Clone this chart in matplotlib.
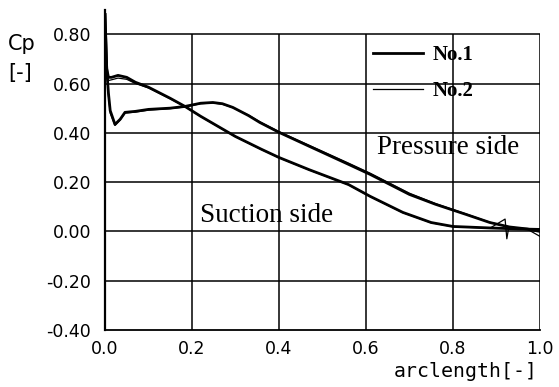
import numpy as np
import matplotlib.pyplot as plt

# Cp along arclength
x_suc1 = [0.0, 0.004, 0.008, 0.015, 0.03, 0.05, 0.07, 0.1, 0.15, 0.184, 0.22, 0.3, 0.36,
          0.4, 0.47, 0.56, 0.61, 0.685, 0.75, 0.8, 0.885, 0.95, 1.0]
cp_suc1 = [0.88, 0.66, 0.625, 0.625, 0.633, 0.625, 0.605, 0.585, 0.54, 0.507, 0.467, 0.385, 0.333,
           0.30, 0.25, 0.19, 0.142, 0.077, 0.036, 0.02, 0.014, 0.01, 0.008]

x_pre1 = [0.0, 0.004, 0.008, 0.012, 0.023, 0.035, 0.046, 0.07, 0.1, 0.15, 0.184, 0.22, 0.248,
          0.27, 0.294, 0.33, 0.356, 0.4, 0.47, 0.56, 0.61, 0.7, 0.76, 0.83, 0.885, 0.93, 0.97, 1.0]
cp_pre1 = [0.88, 0.66, 0.56, 0.49, 0.434, 0.455, 0.483, 0.487, 0.495, 0.50, 0.507, 0.52, 0.523,
           0.518, 0.503, 0.47, 0.442, 0.402, 0.345, 0.272, 0.231, 0.15, 0.11, 0.069, 0.036, 0.018, 0.01, 0.0]

x_suc2 = [0.0, 0.004, 0.008, 0.015, 0.03, 0.05, 0.07, 0.1, 0.15, 0.184, 0.22, 0.3, 0.36,
          0.4, 0.47, 0.56, 0.61, 0.685, 0.75, 0.8, 0.885, 0.92, 0.924, 0.928, 0.95, 1.0]
cp_suc2 = [0.88, 0.64, 0.612, 0.615, 0.622, 0.617, 0.6, 0.582, 0.538, 0.506, 0.466, 0.384, 0.332,
           0.299, 0.249, 0.189, 0.141, 0.076, 0.035, 0.019, 0.013, 0.05, -0.03, 0.012, 0.01, 0.008]

x_pre2 = [0.0, 0.004, 0.008, 0.012, 0.023, 0.035, 0.046, 0.07, 0.1, 0.15, 0.184, 0.22, 0.248,
          0.27, 0.294, 0.33, 0.356, 0.4, 0.47, 0.56, 0.61, 0.7, 0.76, 0.83, 0.885, 0.93, 0.97, 1.0]
cp_pre2 = [0.88, 0.65, 0.55, 0.48, 0.43, 0.452, 0.48, 0.484, 0.492, 0.498, 0.505, 0.518, 0.521,
           0.516, 0.502, 0.472, 0.445, 0.405, 0.349, 0.277, 0.236, 0.155, 0.113, 0.071, 0.037, 0.018, 0.01, -0.02]

xticks = [0.0, 0.2, 0.4, 0.6, 0.8, 1.0]
yticks = [-0.40, -0.20, 0.00, 0.20, 0.40, 0.60, 0.80]

fig = plt.figure(figsize=(5.59, 3.87), dpi=100)
ax = fig.add_axes([0.1878, 0.1473, 0.778, 0.828])

# grid box stops at 0.8, only the left axis goes higher
ax.hlines(yticks[1:], 0, 1.0, color='black', lw=1.1, zorder=1)
ax.vlines(xticks[1:], -0.4, 0.8, color='black', lw=1.1, zorder=1)

ax.plot(x_suc1, cp_suc1, color='black', lw=2.0, label='No.1', zorder=3)
ax.plot(x_pre1, cp_pre1, color='black', lw=2.0, zorder=3)
ax.plot(x_suc2, cp_suc2, color='black', lw=0.9, label='No.2', zorder=4)
ax.plot(x_pre2, cp_pre2, color='black', lw=0.9, zorder=4)

ax.set_xlim(0, 1.0)
ax.set_ylim(-0.4, 0.9)
for s in ['top', 'right']:
    ax.spines[s].set_visible(False)
ax.spines['left'].set_linewidth(1.6)
ax.spines['bottom'].set_linewidth(1.3)

ax.set_xticks(xticks)
ax.set_xticklabels(['%.1f' % v for v in xticks])
ax.set_yticks(yticks)
ax.set_yticklabels(['%.2f' % v for v in yticks])
ax.tick_params(length=0, labelsize=12.5, colors='black')
ax.tick_params(axis='y', pad=10)
ax.tick_params(axis='x', pad=7)

ax.legend(loc='upper left', bbox_to_anchor=(0.616, 0.89), frameon=False,
          borderpad=0, borderaxespad=0, handlelength=2.4, handletextpad=0.45,
          labelspacing=0.8, prop={'family': 'Liberation Serif', 'size': 15, 'weight': 'bold'})

ax.text(0.625, 0.312, 'Pressure side', family='Liberation Serif', fontsize=19.5, va='baseline')
ax.text(0.218, 0.04, 'Suction side', family='Liberation Serif', fontsize=19.5, va='baseline')

fig.text(0.014, 0.871, 'Cp', fontsize=15, va='baseline')
fig.text(0.014, 0.795, '[-]', fontsize=15, va='baseline')
fig.text(0.962, 0.026, 'arclength[-]', family='DejaVu Sans Mono', fontsize=14.3,
         ha='right', va='baseline')

fig.savefig('out.png', dpi=100)
